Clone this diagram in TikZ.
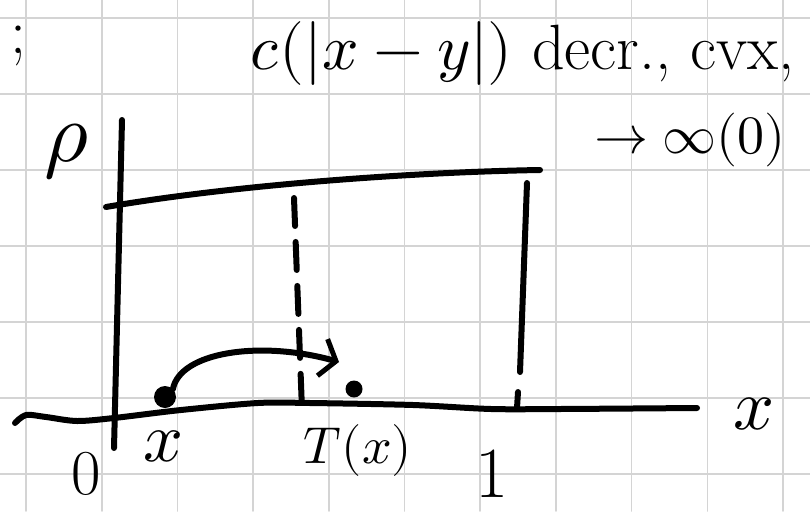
\documentclass[tikz,border=0pt]{standalone}
\usepackage{unicode-math}
\usetikzlibrary{arrows.meta, calc}
\definecolor{ink}{HTML}{000000}
\definecolor{paper}{HTML}{FFFFFF}
\definecolor{gridline}{HTML}{D4D4D4}

\begin{document}
\begin{tikzpicture}[x=1pt, y=-1pt, line cap=round, line join=round,
  pen/.style={ink, line width=6pt},
  gl/.style={gridline, line width=1.6pt},
  lbl/.style={ink, inner sep=0pt, anchor=center},
  dot/.style={circle, fill=ink, inner sep=0pt, minimum size=16pt},
  arr/.style={pen, -{Straight Barb[length=14pt, width=38pt, line width=5pt]}}
]
  \useasboundingbox[fill=paper] (0,0) rectangle (810,511);
  \foreach \i in {0,...,10} \draw[gl] ({26+75.7*\i},0) -- ++(0,511);
  \foreach \j in {0,...,6} \draw[gl] (0,{18+76*\j}) -- ++(810,0);

  \node[lbl, font=\fontsize{64}{68}\selectfont] (frag) at (18,46) {;};
  \node[lbl, font=\fontsize{64}{68}\selectfont, anchor=west] (title) at (250,54)
    {$c(|x-y|)$ decr., cvx,};
  \node[lbl, font=\fontsize{54}{58}\selectfont] (limit) at (690,140) {$\to\infty(0)$};

  \coordinate (ytop) at (122,120);
  \coordinate (ybot) at (114,448);
  \draw[pen] (ytop) -- (ybot);
  \draw[pen] plot[smooth] coordinates {(15,423) (26,415) (46,417) (77,421) (114,418)
    (181,410) (258,403) (310,403) (413,405) (491,409) (560,409) (697,408)};

  \coordinate (rl) at (106,207);
  \coordinate (rr) at (540,170);
  \draw[pen] (rl) .. controls (240,184) and (420,172) .. (rr);
  \draw[pen, dash pattern=on 28pt off 16pt] (294,198) -- (302,410);
  \draw[pen] (527,183) -- (520,372);
  \draw[pen] (518,392) -- (517,408);

  \node[lbl, font=\fontsize{85}{90}\selectfont] (rho) at (67,152) {$\rho$};
  \node[lbl, font=\fontsize{72}{76}\selectfont] (xax) at (754,414) {$x$};
  \node[lbl, font=\fontsize{70}{74}\selectfont] (lx) at (164,446) {$x$};
  \node[lbl, font=\fontsize{52}{56}\selectfont] (lT) at (358,450) {$T(x)$};
  \node[lbl, font=\fontsize{64}{68}\selectfont] (zero) at (86,474) {0};
  \node[lbl, font=\fontsize{72}{76}\selectfont] (one) at (492,474) {1};

  \node[dot, minimum size=22pt] (px) at (165,397) {};
  \node[dot, minimum size=17pt] (pT) at (354,389) {};
  \coordinate (tip) at (339,362);
  \draw[arr] (px.north east) .. controls (180,352) and (260,340) .. (tip);
\end{tikzpicture}
\end{document}
